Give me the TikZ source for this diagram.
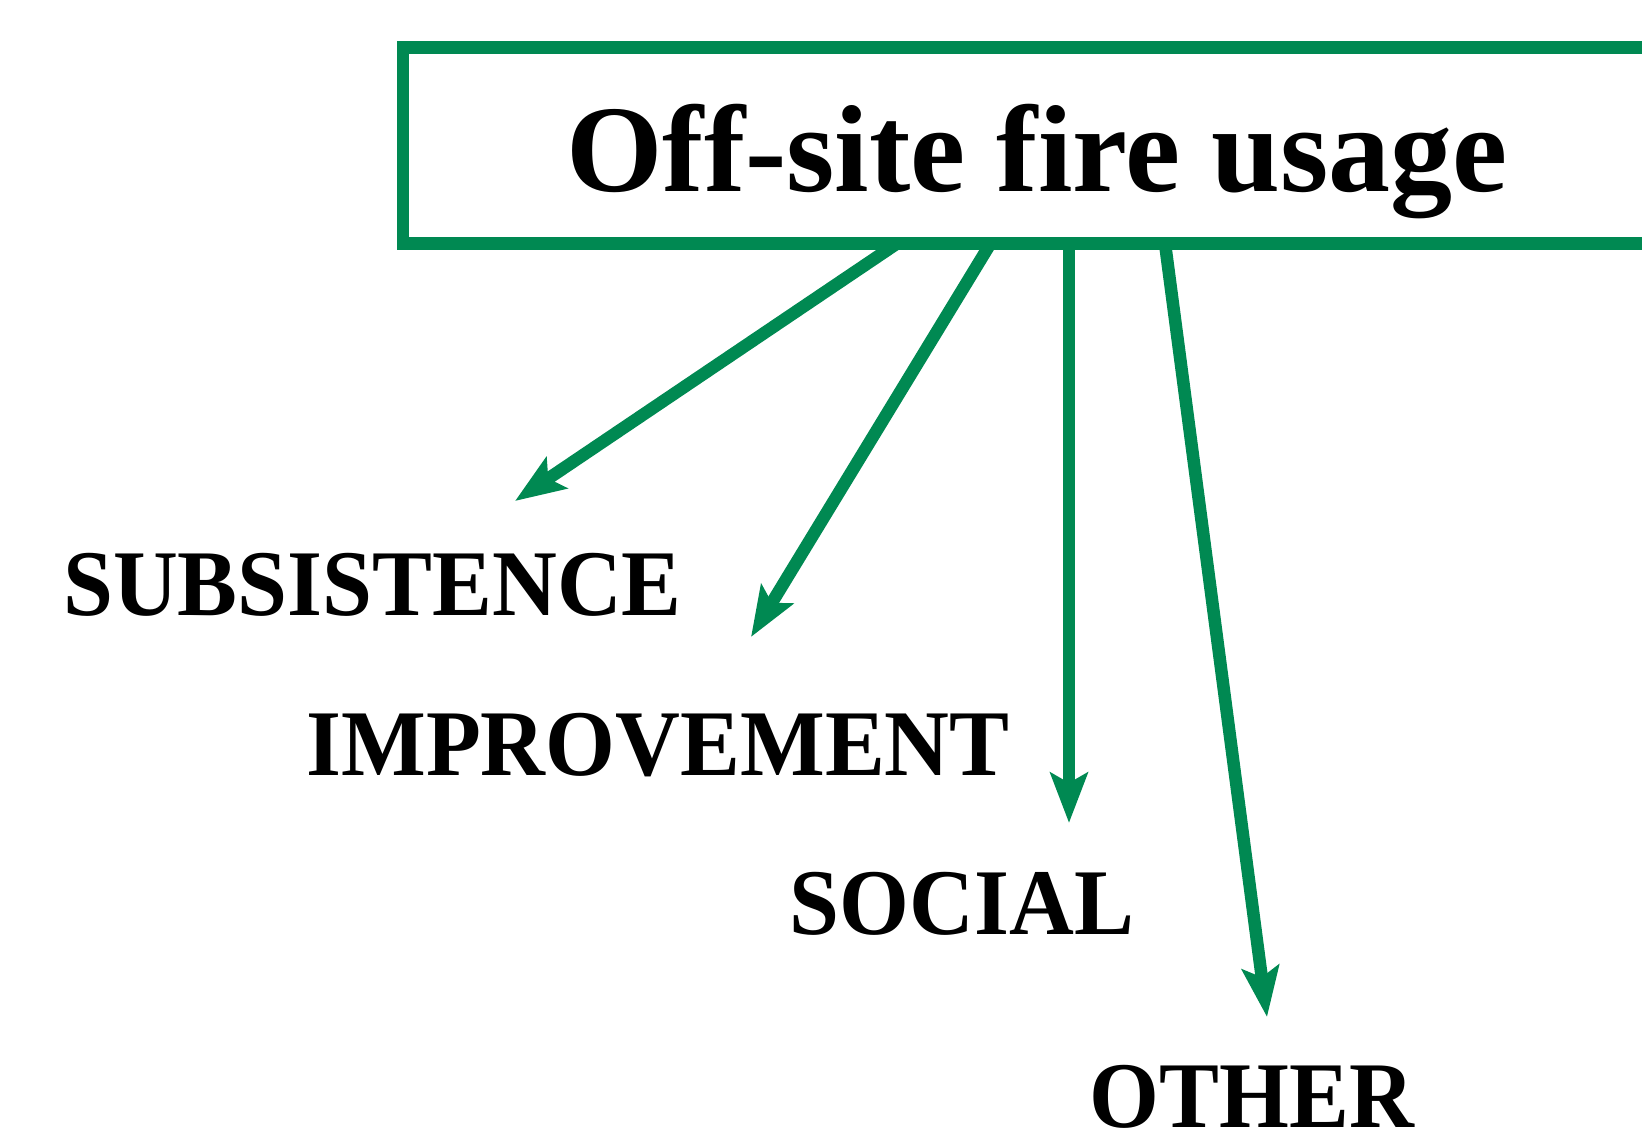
\documentclass[tikz,border=0pt]{standalone}
\usepackage{fontspec}
\setmainfont{Liberation Serif}
\newfontfamily\lblfont{Liberation Serif}[FakeStretch=0.955]
\usetikzlibrary{arrows.meta}
\definecolor{fgreen}{RGB}{0,137,82}
\begin{document}
\begin{tikzpicture}[x=0.5pt,y=-0.5pt,
  frame/.style={draw=fgreen, line width=6.25pt, minimum width=634pt, minimum height=98pt,
    inner sep=0pt, outer sep=0pt, text height=50pt, text depth=3.5pt,
    font=\fontsize{62}{70}\selectfont\bfseries},
  lbl/.style={anchor=base, inner sep=0pt, font=\lblfont\fontsize{47}{50}\selectfont\bfseries},
  arr/.style={draw=fgreen, line width=6.25pt, -{Stealth[length=25pt,width=18.5pt,inset=5pt]}}]
\useasboundingbox (0,0) rectangle (1642,1134);
\node[frame] (box) at (1037,145.5) {Off-site fire usage};
\node[lbl] (sub) at (372.5,615) {SUBSISTENCE};
\node[lbl] (imp) at (658,775) {IMPROVEMENT};
\node[lbl] (soc) at (962,934) {SOCIAL};
\node[lbl] (oth) at (1252,1127) {OTHER};
\coordinate (t1) at (515,501);
\coordinate (t2) at (751,637);
\coordinate (t3) at (1069,823);
\coordinate (t4) at (1267,1017);
\draw[arr] ([xshift=247pt]box.south west) -- (t1);
\draw[arr] ([xshift=293.75pt]box.south west) -- (t2);
\draw[arr] ([xshift=333pt]box.south west) -- (t3);
\draw[arr] ([xshift=381pt]box.south west) -- (t4);
\end{tikzpicture}
\end{document}
